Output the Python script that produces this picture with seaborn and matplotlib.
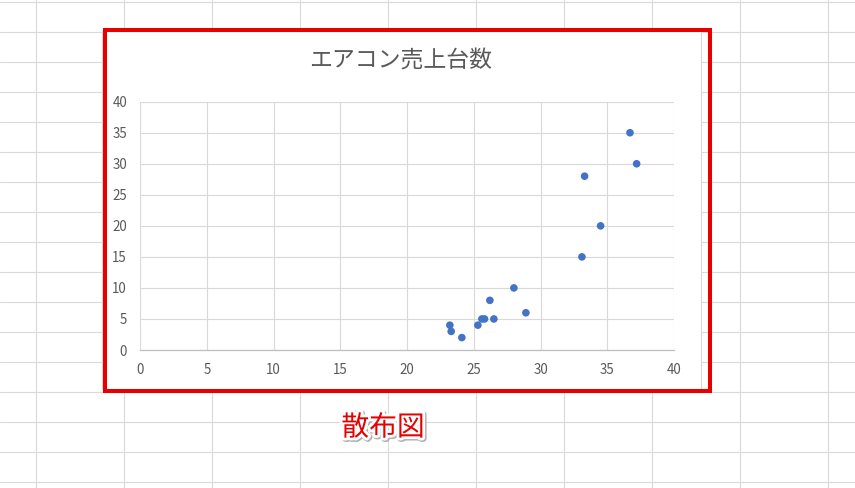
import matplotlib
matplotlib.use("Agg")
import matplotlib.pyplot as plt
import matplotlib.patheffects as pe
from matplotlib.patches import Rectangle
from matplotlib.lines import Line2D
import seaborn as sns
import pandas as pd

# ---- data ----
temperature = [23.2, 23.3, 24.1, 25.3, 25.6, 25.8, 26.5, 26.2, 28.0, 28.9, 33.1, 33.3, 34.5, 36.7, 37.2]
sales = [4, 3, 2, 4, 5, 5, 5, 8, 10, 6, 15, 28, 20, 35, 30]
x_ticks = [0, 5, 10, 15, 20, 25, 30, 35, 40]
y_ticks = [0, 5, 10, 15, 20, 25, 30, 35, 40]
chart_title = "エアコン売上台数"
caption = "散布図"

sns.set_style("white")
plt.rcParams["font.family"] = ["Noto Sans CJK JP", "DejaVu Sans"]

W, H = 855, 488
fig = plt.figure(figsize=(W / 100, H / 100), dpi=100)
fig.patch.set_facecolor("white")

def fx(x):
    return x / W

def fy(y):
    return 1 - y / H

# spreadsheet grid
grid_c = "#dadada"
k = 0
while 35.5 + 88.1 * k < W:
    x = 35.5 + 88.1 * k
    fig.add_artist(Line2D([fx(x), fx(x)], [0, 1], color=grid_c, lw=0.8, zorder=0))
    k += 1
k = 0
while 2.3 + 30 * k < H:
    y = 2.3 + 30 * k
    fig.add_artist(Line2D([0, 1], [fy(y), fy(y)], color=grid_c, lw=0.8, zorder=0))
    k += 1

# chart area
cx0, cy0, cx1, cy1 = 101.7, 31, 700.7, 389
fig.add_artist(Rectangle((fx(cx0), fy(cy1)), fx(cx1) - fx(cx0), fy(cy0) - fy(cy1),
                         facecolor="white", edgecolor="#d9d9d9", lw=0.8, zorder=1))

# plot axes
px0, py0, px1, py1 = 140.3, 101.7, 674, 350
ax = fig.add_axes([fx(px0), fy(py1), fx(px1) - fx(px0), fy(py0) - fy(py1)], zorder=2)
df = pd.DataFrame({"気温": temperature, "売上台数": sales})
sns.scatterplot(data=df, x="気温", y="売上台数", ax=ax, color="#4472C4", s=30,
                edgecolor="none", linewidth=0, zorder=3)
ax.set_xlim(0, 40)
ax.set_ylim(0, 40)
ax.set_xticks(x_ticks)
ax.set_yticks(y_ticks)
ax.set_xticklabels([str(v) for v in x_ticks])
ax.set_yticklabels([str(v) for v in y_ticks])
ax.set_xlabel("")
ax.set_ylabel("")
ax.set_facecolor("none")
ax.grid(True, color="#d9d9d9", lw=0.8)
ax.set_axisbelow(True)
for s in ["top", "right", "left"]:
    ax.spines[s].set_visible(False)
ax.spines["bottom"].set_color("#bfbfbf")
ax.spines["bottom"].set_linewidth(0.9)
ax.tick_params(axis="both", length=0, labelsize=9.6, labelcolor="#595959")
ax.tick_params(axis="y", pad=9.5)
ax.tick_params(axis="x", pad=9.0)

# title
fig.text(fx(401), fy(61.5), chart_title, ha="center", va="center",
         fontsize=16.5, color="#595959", zorder=4)

# red frame
fig.add_artist(Rectangle((fx(105), fy(391)), fx(710) - fx(105), fy(29.7) - fy(391),
                         fill=False, edgecolor="#E60000", lw=2.9, zorder=5))

# caption
fig.text(fx(383), fy(427.5), caption, ha="center", va="center", fontsize=20,
         color="#E60000", fontweight="normal", zorder=6,
         path_effects=[pe.Stroke(linewidth=4.5, foreground="#b0b0b0", offset=(0.8, -0.8)),
                       pe.Stroke(linewidth=4, foreground="white"),
                       pe.Normal()])

fig.savefig("out.png", dpi=100)
